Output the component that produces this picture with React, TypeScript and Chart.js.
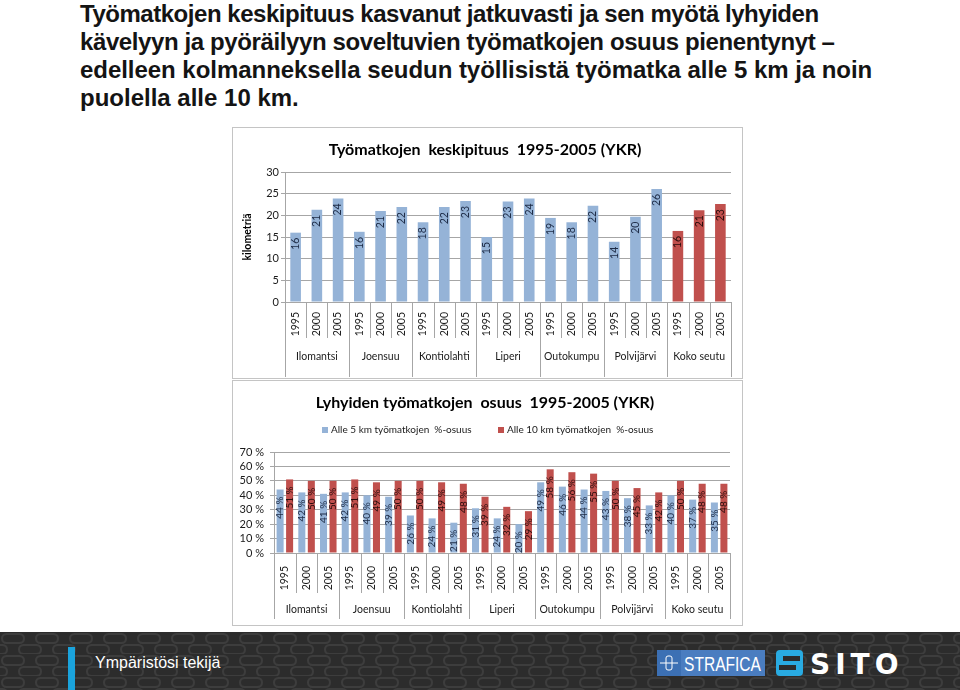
import React, { useEffect, useRef } from 'react';
import { Chart, registerables } from 'chart.js';

Chart.register(...registerables);

// ---------------- data ----------------
const groups = ['Ilomantsi', 'Joensuu', 'Kontiolahti', 'Liperi', 'Outokumpu', 'Polvijärvi', 'Koko seutu'];
const years = ['1995', '2000', '2005'];
const avgLengthKm = [16.0, 21.3, 23.9, 16.2, 21.0, 21.9, 18.4, 21.9, 23.3, 15.0, 23.2, 23.9, 19.4, 18.4, 22.2, 13.9, 19.7, 26.1, 16.4, 21.2, 22.6];
const under5Share = [44, 42, 41, 42, 40, 39, 26, 24, 21, 31, 24, 20, 49, 46, 44, 43, 38, 33, 40, 37, 35];
const under10Share = [51, 50, 50, 51, 49, 50, 50, 49, 48, 39, 32, 29, 58, 56, 55, 50, 45, 42, 50, 48, 48];
const lengthTicks = [0, 5, 10, 15, 20, 25, 30];
const shareTicks = [0, 10, 20, 30, 40, 50, 60, 70];

const chart1Title = 'Työmatkojen  keskipituus  1995-2005 (YKR)';
const chart1AxisTitle = 'kilometriä';
const chart2Title = 'Lyhyiden työmatkojen  osuus  1995-2005 (YKR)';
const legend5 = 'Alle 5 km työmatkojen  %-osuus';
const legend10 = 'Alle 10 km työmatkojen  %-osuus';

const titleLines = [
  'Työmatkojen keskipituus kasvanut jatkuvasti ja sen myötä lyhyiden',
  'kävelyyn ja pyöräilyyn soveltuvien työmatkojen osuus pienentynyt –',
  'edelleen kolmanneksella seudun työllisistä työmatka alle 5 km ja noin',
  'puolella alle 10 km.',
];
const titleLineSpacing = [-0.47, -0.39, -0.04, 0];

const BLUE = '#95b3d7';
const RED = '#c0504d';
const GRID = '#a6a6a6';
const FONT = 'Lato, "Open Sans", sans-serif';

const categoryLabels = groups.flatMap(() => years);

type FrameOpts = {
  title: string;
  titleY: number;
  yearBottom: number;
  groupBottom: number;
  groupLabelY: number;
  labelGap: number;
  labelFont: string;
  fmt: (v: number) => string;
  axisTitle?: { text: string; x: number; y: number };
  legend?: { y: number; items: { x: number; color: string; text: string }[] };
};

function makeFramePlugin(o: FrameOpts) {
  return {
    id: 'frame',
    afterDatasetsDraw(chart: any) {
      const { ctx } = chart;
      chart.data.datasets.forEach((ds: any, di: number) => {
        const meta = chart.getDatasetMeta(di);
        meta.data.forEach((bar: any, i: number) => {
          const v = ds.data[i];
          const isRed = Array.isArray(ds.backgroundColor) ? ds.backgroundColor[i] === RED : ds.backgroundColor === RED;
          ctx.save();
          ctx.translate(bar.x, bar.y + o.labelGap);
          ctx.rotate(-Math.PI / 2);
          ctx.font = o.labelFont;
          ctx.fillStyle = isRed ? '#2a0c0c' : '#1c2a45';
          ctx.textAlign = 'right';
          ctx.textBaseline = 'middle';
          ctx.fillText(o.fmt(v), 0, 0);
          ctx.restore();
        });
      });
    },
    afterDraw(chart: any) {
      const { ctx, chartArea, width } = chart;
      const n = categoryLabels.length;
      const step = (chartArea.right - chartArea.left) / n;
      ctx.save();
      ctx.strokeStyle = GRID;
      ctx.lineWidth = 1;
      for (let i = 0; i <= n; i++) {
        const xi = Math.round(chartArea.left + i * step) + 0.5;
        const end = i % 3 === 0 ? o.groupBottom : o.yearBottom;
        ctx.beginPath();
        ctx.moveTo(xi, chartArea.bottom);
        ctx.lineTo(xi, end);
        ctx.stroke();
      }
      ctx.fillStyle = '#1a1a1a';
      ctx.font = `10.5px ${FONT}`;
      ctx.textAlign = 'center';
      ctx.textBaseline = 'middle';
      groups.forEach((g, gi) => {
        const cx = chartArea.left + (gi * 3 + 1.5) * step;
        ctx.fillText(g, cx, o.groupLabelY);
      });
      ctx.font = `bold 16px ${FONT}`;
      ctx.fillStyle = '#000';
      ctx.fillText(o.title, width / 2 - 1, o.titleY);
      if (o.axisTitle) {
        ctx.save();
        ctx.translate(o.axisTitle.x, o.axisTitle.y);
        ctx.rotate(-Math.PI / 2);
        ctx.font = `bold 10.5px ${FONT}`;
        ctx.fillText(o.axisTitle.text, 0, 0);
        ctx.restore();
      }
      if (o.legend) {
        ctx.font = `10px ${FONT}`;
        ctx.textAlign = 'left';
        o.legend.items.forEach((it) => {
          ctx.fillStyle = it.color;
          ctx.fillRect(it.x, o.legend!.y - 3, 6, 6);
          ctx.fillStyle = '#1a1a1a';
          ctx.fillText(it.text, it.x + 9, o.legend!.y);
        });
      }
      ctx.restore();
    },
  };
}

function baseScales(yTicks: number[], yFmt: (v: number) => string, yWidth: number, xHeight: number, yPad: number, xPad: number) {
  return {
    x: {
      type: 'category',
      offset: true,
      grid: { display: false },
      border: { display: false },
      ticks: {
        minRotation: 90,
        maxRotation: 90,
        autoSkip: false,
        padding: xPad,
        color: '#1a1a1a',
        font: { family: FONT, size: 10.5 },
      },
      afterFit: (s: any) => {
        s.height = xHeight;
      },
    },
    y: {
      min: yTicks[0],
      max: yTicks[yTicks.length - 1],
      afterBuildTicks: (s: any) => {
        s.ticks = yTicks.map((v) => ({ value: v }));
      },
      grid: { color: GRID, tickLength: 4, drawTicks: true },
      border: { display: true, color: GRID },
      ticks: {
        autoSkip: false,
        padding: yPad,
        color: '#1a1a1a',
        font: { family: FONT, size: 11 },
        callback: (v: any) => yFmt(Number(v)),
      },
      afterFit: (s: any) => {
        s.width = yWidth;
      },
    },
  };
}

function LengthChart() {
  const ref = useRef<HTMLCanvasElement>(null);
  useEffect(() => {
    const colors = categoryLabels.map((_, i) => (Math.floor(i / 3) === groups.length - 1 ? RED : BLUE));
    const chart = new Chart(ref.current!, {
      type: 'bar',
      data: {
        labels: categoryLabels,
        datasets: [
          {
            label: 'Keskipituus',
            data: avgLengthKm,
            backgroundColor: colors,
            categoryPercentage: 1,
            barPercentage: 0.5,
          },
        ],
      },
      options: {
        responsive: false,
        animation: false,
        layout: { padding: { top: 44, right: 11, left: 0, bottom: 0 } },
        plugins: { legend: { display: false }, tooltip: { enabled: false }, title: { display: false } },
        scales: baseScales(lengthTicks, (v) => String(v), 55, 76, 2, 2) as any,
      },
      plugins: [
        makeFramePlugin({
          title: chart1Title,
          titleY: 22,
          yearBottom: 210,
          groupBottom: 249,
          groupLabelY: 229,
          labelGap: 5,
          labelFont: `10.5px ${FONT}`,
          fmt: (v) => String(Math.round(v)),
          axisTitle: { text: chart1AxisTitle, x: 18, y: 109 },
        }),
      ],
    });
    return () => chart.destroy();
  }, []);
  return <canvas ref={ref} width={512} height={250} style={{ position: 'absolute', left: 230, top: 128 }} />;
}

function ShareChart() {
  const ref = useRef<HTMLCanvasElement>(null);
  useEffect(() => {
    const chart = new Chart(ref.current!, {
      type: 'bar',
      data: {
        labels: categoryLabels,
        datasets: [
          { label: legend5, data: under5Share, backgroundColor: BLUE, categoryPercentage: 0.875, barPercentage: 0.74 },
          { label: legend10, data: under10Share, backgroundColor: RED, categoryPercentage: 0.875, barPercentage: 0.74 },
        ],
      },
      options: {
        responsive: false,
        animation: false,
        layout: { padding: { top: 71, right: 12, left: 0, bottom: 0 } },
        plugins: { legend: { display: false }, tooltip: { enabled: false }, title: { display: false } },
        scales: baseScales(shareTicks, (v) => `${v} %`, 44, 72, 6, 5) as any,
      },
      plugins: [
        makeFramePlugin({
          title: chart2Title,
          titleY: 22,
          yearBottom: 212,
          groupBottom: 238,
          groupLabelY: 229,
          labelGap: 7,
          labelFont: `10px ${FONT}`,
          fmt: (v) => `${v} %`,
          legend: {
            y: 49,
            items: [
              { x: 92, color: BLUE, text: legend5 },
              { x: 268, color: RED, text: legend10 },
            ],
          },
        }),
      ],
    });
    return () => chart.destroy();
  }, []);
  return <canvas ref={ref} width={512} height={244} style={{ position: 'absolute', left: 230, top: 381 }} />;
}

function Footer() {
  const narrow = '"Liberation Sans Narrow", "Arial Narrow", sans-serif';
  return (
    <div style={{ position: 'absolute', left: 0, top: 632, width: 960, height: 58, overflow: 'hidden', background: '#2c2c2c' }}>
      <svg width={960} height={58} style={{ position: 'absolute', left: 0, top: 0 }}>
        <defs>
          <pattern id="chain" width={34} height={22} patternUnits="userSpaceOnUse">
            <rect x={2} y={2} width={22} height={9} rx={4.5} fill="none" stroke="#3d3d3d" strokeWidth={2} />
            <rect x={19} y={13} width={22} height={9} rx={4.5} fill="none" stroke="#3d3d3d" strokeWidth={2} />
            <rect x={-15} y={13} width={22} height={9} rx={4.5} fill="none" stroke="#3d3d3d" strokeWidth={2} />
          </pattern>
        </defs>
        <rect x={0} y={0} width={960} height={58} fill="url(#chain)" />
        <rect x={68} y={15} width={7} height={43} fill="#1aa3dc" />
        <text x={95} y={36} fill="#ffffff" fontFamily={narrow} fontSize={16}>
          Ympäristösi tekijä
        </text>
        {/* STRAFICA logo */}
        <rect x={657} y={18} width={108} height={26} fill="#ffffff" />
        <rect x={657} y={18} width={24} height={26} fill="#3c70b4" />
        <line x1={660} y1={31} x2={678} y2={31} stroke="#ffffff" strokeWidth={1} />
        <rect x={666} y={24} width={6} height={14} rx={2} fill="none" stroke="#ffffff" strokeWidth={1} />
        <rect x={681} y={18} width={84} height={26} fill="#4a7dc0" />
        <text x={684} y={39} fill="#ffffff" fontFamily={narrow} fontSize={21} textLength={77} lengthAdjust="spacingAndGlyphs">
          STRAFICA
        </text>
        {/* SITO logo */}
        <rect x={776} y={18} width={27} height={26} rx={4} fill="#29abe2" />
        <rect x={783} y={24} width={17} height={5} fill="#2c2c2c" />
        <rect x={779} y={33} width={17} height={5} fill="#2c2c2c" />
        <text x={810} y={42} fill="#ffffff" fontFamily='"DejaVu Sans", sans-serif' fontWeight="bold" fontSize={28} letterSpacing={5}>
          SITO
        </text>
      </svg>
    </div>
  );
}

export default function App() {
  return (
    <div style={{ position: 'absolute', left: 0, top: 0, width: 960, height: 690, background: '#ffffff', overflow: 'hidden' }}>
      <div
        style={{
          position: 'absolute',
          left: 80,
          top: 0,
          width: 870,
          fontFamily: '"Liberation Sans", Arial, sans-serif',
          fontWeight: 'bold',
          fontSize: 24,
          lineHeight: '28px',
          color: '#141414',
          whiteSpace: 'pre',
        }}
      >
        {titleLines.map((l, i) => (
          <div key={i} style={{ letterSpacing: titleLineSpacing[i] }}>
            {l}
          </div>
        ))}
      </div>
      <div style={{ position: 'absolute', left: 232, top: 127, width: 509, height: 250, border: '1px solid #c4c4c4' }} />
      <div style={{ position: 'absolute', left: 232, top: 380, width: 509, height: 244, border: '1px solid #c4c4c4' }} />
      <LengthChart />
      <ShareChart />
      <Footer />
    </div>
  );
}
